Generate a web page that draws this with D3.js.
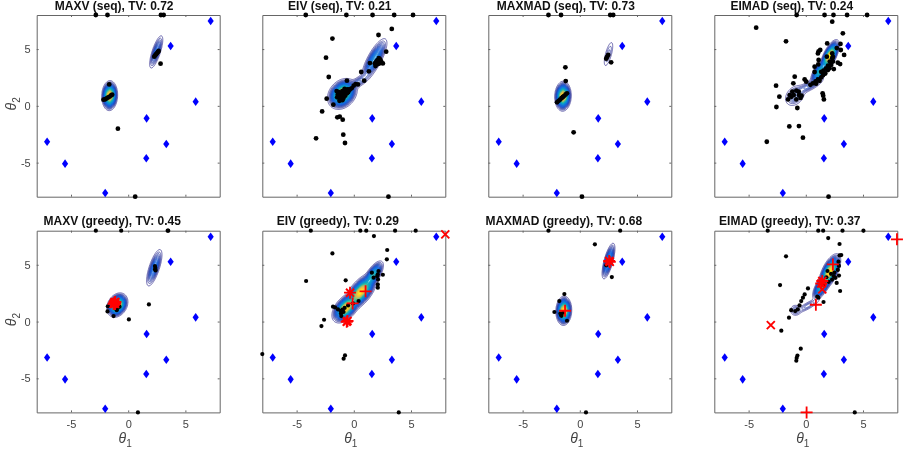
<!DOCTYPE html>
<html><head><meta charset="utf-8">
<script src="https://cdnjs.cloudflare.com/ajax/libs/d3/7.8.5/d3.min.js"></script>
<style>html,body{margin:0;padding:0;background:#fff}svg{display:block;filter:blur(.3px)}text{font-family:"Liberation Sans",Arial,sans-serif}</style>
</head><body><svg id="c" width="906" height="452"></svg>
<script>
const titles=["MAXV (seq), TV: 0.72","EIV (seq), TV: 0.21","MAXMAD (seq), TV: 0.73","EIMAD (seq), TV: 0.24","MAXV (greedy), TV: 0.45","EIV (greedy), TV: 0.29","MAXMAD (greedy), TV: 0.68","EIMAD (greedy), TV: 0.37"];
const tickValues=[-5,0,5];
const designs=[[-7.09,-3.16],[-5.52,-5.09],[-2.01,-7.68],[1.58,-4.62],[1.61,-1.1],[3.33,-3.36],[3.71,5.27],[5.9,0.37],[7.21,7.47]];

const pointsMaxvSeq=[[-2.83,8],[-1.81,8],[2.86,8],[3.1,8],[0.61,-8],[-0.9,-2.01],[2.83,3.71],[-1.66,1.89],[-2.16,0.54],[-2.0,0.58],[-1.88,0.66],[-1.75,0.74],[-1.62,0.82],[-1.5,0.92],[-1.4,0.98],[2.28,4.33],[2.36,4.45],[2.44,4.55],[2.52,4.65],[2.6,4.75],[2.66,4.83]];
const pointsEivSeq=[[-4.2,8],[-0.65,8],[1.64,8],[3.53,8],[5.18,8],[3.03,-8],[3.32,6.77],[2.16,6.24],[-1.87,5.92],[2.83,4.77],[-2.43,4.24],[-2.19,2.54],[-0.6,2.22],[0.65,2.98],[1.32,3.04],[1.41,3.77],[0.91,2.22],[-2.37,0.63],[-1.79,0.1],[-2.77,-0.49],[-1.44,-1.01],[-1.23,-0.95],[-0.97,-1.22],[-0.92,-2.54],[-0.77,-3.27],[-3.3,-2.86],
[-1.5,1.3],[-1.4,1.0],[-1.35,0.8],[-1.3,1.2],[-1.2,0.9],[-1.15,0.6],[-1.1,1.1],[-1.05,0.8],[-1.0,1.3],[-1.0,0.5],[-0.95,1.0],[-0.9,0.7],[-0.85,1.2],[-0.8,1.5],[-0.75,0.9],[-0.7,1.3],[-0.6,1.1],[-0.55,1.45],[-0.5,1.2],[-0.4,1.4],[-1.45,0.75],[-1.25,0.45],[0.16,1.92],[-0.01,1.78],[0.36,1.89],[-0.19,1.54],[-0.35,1.45],
[2.19,4.1],[1.96,3.89],[2.4,3.89],[2.1,3.68],[1.84,3.74],[2.25,3.74],[2.54,3.74],[2.19,4.2],[2.05,4.0],[2.3,4.1],[1.9,3.5]];
const pointsMaxmadSeq=[[-2.74,8],[-1.64,8],[2.66,8],[2.92,8],[0.19,-8],[2.74,3.83],[-1.26,3.39],[-1.23,2.18],[-0.54,-2.33],[-1.99,0.31],[-1.85,0.44],[-1.72,0.55],[-1.6,0.68],[-1.48,0.78],[-1.36,0.88],[-1.24,1.0],[-1.12,1.1],[2.31,4.15],[2.38,4.3],[2.48,4.48]];
const pointsEimadSeq=[[-0.8,8],[1.64,8],[2.42,8],[3.61,8],[5.36,8],[1.99,-8],[-4.34,6.88],[2.31,7.41],[-1.73,5.68],[3.24,6.39],[1.87,5.5],[3.03,5.45],[2.71,5.09],[3.06,4.92],[3.35,4.48],[1.26,4.92],[1.12,4.8],[1.06,4.62],[1.84,4.33],[2.31,4.62],[2.37,4.33],[1.12,4.04],[1.09,3.65],[0.77,3.45],[2.8,3.8],[3.0,3.68],[2.45,3.24],[0.77,2.98],[-0.97,2.57],[-1.09,1.98],[-0.1,2.33],[0.04,2.13],[-2.6,1.78],[-2.31,0.81],[-2.57,-0.1],[-0.74,-0.19],[1.47,1.1],[1.52,0.9],[1.58,0.57],[-1.44,-1.81],[-0.6,-1.78],[-0.25,-2.8],[-3.41,-3.16],
[-1.55,0.57],[-1.41,0.95],[-1.18,1.25],[-0.83,1.34],[-0.62,1.25],[-1.05,0.95],[-0.6,0.95],[-0.37,0.9],[-0.83,0.57],[-1.26,0.8],[-0.46,0.7],
[0.62,1.98],[0.85,2.15],[1.06,2.33],[1.35,2.5],[1.5,2.7],[1.7,2.85],[1.93,3.15],[2.08,3.3],[2.22,3.6],[2.37,3.9],[1.78,3.3],[1.55,3.1],[1.35,3.0],[2.31,4.2],[2.1,3.9],[1.95,3.55],[0.4,1.85],[0.9,1.95],[1.2,2.2]];
const pointsMaxvGreedy=[[-2.83,8],[-0.61,8],[3.45,8],[3.5,8],[0.85,-8],[0.06,0.19],[1.81,1.51],[-1.78,1.34],[-1.81,0.89],[-1.28,0.48],[-1.0,1.0],[-0.93,1.19],[-0.76,1.31],[2.34,4.89],[2.37,4.72],[2.39,4.5],[2.35,4.6]];
const pointsEivGreedy=[[-3.76,8],[0.57,8],[1.09,8],[3.61,8],[5.41,8],[1.76,7.53],[2.92,6.3],[2.89,5.48],[-1.87,6.0],[-4.17,3.57],[-0.71,3.63],[-8,-2.86],[-0.77,-2.98],[-0.89,-3.27],[-2.6,0.16],[-2.83,-0.4],[3.93,-8],[-1.82,1.31],[-1.64,1.25],[-1.38,1.07],[-1.15,0.92],[-1.12,0.7],[-1.09,0.48],[-0.8,1.2],[-0.5,1.42],[-0.07,1.6],[0.42,1.8],[1.58,4.3],[2.16,4.45],[2.1,4.15],[2.12,3.7],[2.1,3.27],[2.1,2.98],[2.54,4.12],[1.73,3.86],[2.05,4.0],[-1.0,1.05],[-0.9,0.85]];
const pointsMaxmadGreedy=[[-2.74,8],[3.53,8],[0.54,-8],[1.32,6.8],[2.8,3.92],[-1.35,2.42],[-1.79,1.8],[-2.22,0.84],[-1.12,0.07],[-1.7,0.7],[-1.6,0.5],[-1.65,0.58],[-1.45,0.78],[2.31,4.95]];
const pointsEimadGreedy=[[-3.33,8],[1.09,8],[1.52,8],[3.21,8],[5.04,8],[4.28,-8],[1.96,7.35],[2.95,6.83],[-1.73,5.74],[-2.25,3.21],[0.19,2.92],[3.1,5.85],[2.95,5.82],[2.86,5.27],[3.0,2.69],[1.55,1.72],[1.0,2.19],[1.1,2.1],[-1.47,0.34],[-2.14,-0.8],[-0.44,-2.39],[-0.73,-3.0],[-0.8,-3.2],[-0.83,-3.45],
[-0.1,2.39],[-0.25,2.1],[-0.4,1.8],[-0.55,1.42],[-0.7,1.07],[-0.93,0.92],[-1.28,1.0],
[1.9,4.45],[2.2,4.2],[2.5,4.3],[2.8,4.55],[2.9,4.05],[2.6,3.85],[2.3,3.7],[2.0,3.5],[1.8,3.9],[2.7,3.4],[2.45,4.0],[2.9,4.9],[1.6,3.3]];

const redPlusMaxvGreedy=[[-1.2,1.63],[-1.12,1.72],[-1.28,1.55],[-1.2,1.7],[-1.15,1.55]];
const redCrossMaxvGreedy=[[-1.2,1.63],[-1.12,1.72],[-1.28,1.55],[-1.2,1.7],[-1.15,1.55]];
const redPlusEivGreedy=[[-0.62,-0.02],[-0.33,2.54],[-0.1,1.6],[1.03,2.66],[-0.55,0.05]];
const redCrossEivGreedy=[[-0.62,-0.02],[-0.33,2.54],[8,7.68],[-0.55,0.05]];
const redPlusMaxmadGreedy=[[-1.29,0.95],[2.57,5.33],[2.62,5.25]];
const redCrossMaxmadGreedy=[[2.57,5.33],[2.62,5.25]];
const redPlusEimadGreedy=[[0.88,1.48],[7.97,7.24],[0.07,-8],[2.37,5.03],[1.44,3.57],[1.35,3.35]];
const redCrossEimadGreedy=[[-3.06,-0.31],[1.44,2.83],[1.44,3.57],[1.35,3.35]];

/* density lobes: centre x, centre y, sigma along, sigma across, axis angle, peak */
const lobesMaxvSeq=[[-1.62,0.9,.44,.23,88,1],[2.45,4.75,.66,.16,72,.14]];
const lobesEivSeq=[[-1.0,1.05,.5,.38,50,1],[0.4,2.1,.57,.19,35,.08],[1.8,4.1,.8,.24,62,.28]];
const lobesMaxmadSeq=[[-1.47,0.85,.44,.24,88,1],[2.51,4.56,.65,.16,75,.04]];
const lobesEimadSeq=[[2.1,4.4,.52,.19,65,1],[1.2,3.0,.47,.19,60,.45],[-0.95,0.9,.47,.34,50,.09],[0.3,1.75,.66,.19,28,.08]];
const lobesMaxvGreedy=[[-0.95,1.45,.38,.28,60,1],[2.28,4.74,.71,.19,72,.18]];
const lobesEivGreedy=[[-0.7,1.2,.52,.3,50,1],[0.6,2.6,.66,.31,52,1],[1.7,4.1,.52,.21,58,.45]];
const lobesMaxmadGreedy=[[-1.4,0.95,.43,.23,88,1],[2.51,5.33,.63,.15,75,.3]];
const lobesEimadGreedy=[[2.1,4.4,.57,.23,65,1],[1.4,3.1,.47,.19,60,.55],[0.2,1.4,.57,.15,30,.055],[-0.9,1,.24,.24,0,.055]];

const parula=["#352a87","#0f5cdd","#1481d6","#06a4ca","#2eb7a4","#87bf77","#d1bb59","#fec832","#f9fb0e"];

const panels=[
 {t:0,pts:pointsMaxvSeq,lobes:lobesMaxvSeq},
 {t:1,pts:pointsEivSeq,lobes:lobesEivSeq},
 {t:2,pts:pointsMaxmadSeq,lobes:lobesMaxmadSeq},
 {t:3,pts:pointsEimadSeq,lobes:lobesEimadSeq},
 {t:4,pts:pointsMaxvGreedy,lobes:lobesMaxvGreedy,plus:redPlusMaxvGreedy,cross:redCrossMaxvGreedy},
 {t:5,pts:pointsEivGreedy,lobes:lobesEivGreedy,plus:redPlusEivGreedy,cross:redCrossEivGreedy},
 {t:6,pts:pointsMaxmadGreedy,lobes:lobesMaxmadGreedy,plus:redPlusMaxmadGreedy,cross:redCrossMaxmadGreedy},
 {t:7,pts:pointsEimadGreedy,lobes:lobesEimadGreedy,plus:redPlusEimadGreedy,cross:redCrossEimadGreedy}
];

const lefts=[36.7,262.3,488.3,714.3], tops=[15,230.7], W=183, H=181.7, N=240, LEVELS=90;
const svg=d3.select("#c");
const colour=d3.scaleLinear().domain(parula.map((_,i)=>i/(parula.length-1))).range(parula);
const gridScale=d3.scaleLinear().domain([0,N]).range([-8,8]);
const diamondShape={draw(ctx){ctx.moveTo(0,-4.3);ctx.lineTo(3.1,0);ctx.lineTo(0,4.3);ctx.lineTo(-3.1,0);ctx.closePath();}};

function field(lobes){
  const v=new Float64Array(N*N);
  for(let j=0;j<N;j++)for(let i=0;i<N;i++){
    const x=gridScale(i+.5),y=gridScale(j+.5);let s=0;
    for(const [cx,cy,a,b,ang,p] of lobes){
      const r=ang*Math.PI/180,dx=x-cx,dy=y-cy;
      const u=dx*Math.cos(r)+dy*Math.sin(r),w=-dx*Math.sin(r)+dy*Math.cos(r);
      s+=p*Math.exp(-.5*(u*u/(a*a)+w*w/(b*b)));
    }
    v[j*N+i]=s;
  }
  return v;
}
const marker={
 plus:r=>`M${-r},0H${r}M0,${-r}V${r}`,
 cross:r=>`M${-r},${-r}L${r},${r}M${-r},${r}L${r},${-r}`
};

panels.forEach((p,idx)=>{
  const col=idx%4,row=idx>3?1:0,x0=lefts[col],y0=tops[row];
  const x=d3.scaleLinear().domain([-8,8]).range([x0,x0+W]);
  const y=d3.scaleLinear().domain([-8,8]).range([y0+H,y0]);
  const g=svg.append("g");

  const vals=field(p.lobes),mx=d3.max(vals);
  const th=d3.range(1,LEVELS).map(i=>i/LEVELS*mx);
  const path=d3.geoPath(d3.geoTransform({point(a,b){this.stream.point(x(gridScale(a)),y(gridScale(b)));}}));
  g.append("g").selectAll("path").data(d3.contours().size([N,N]).thresholds(th)(Array.from(vals)))
    .join("path").attr("d",path).attr("fill","none")
    .attr("stroke",d=>colour(d.value/mx)).attr("stroke-width",.7);

  const frame=g.append("g").attr("class","axes");
  const style=s=>{s.selectAll("path,line").attr("stroke","#666").attr("stroke-width",1);s.selectAll("text").attr("fill","#444").attr("font-size",11).attr("font-family",'"Liberation Sans"');};
  const bottom=d3.axisBottom(x).tickValues(tickValues).tickSizeInner(-2).tickSizeOuter(0).tickPadding(8).tickFormat(d=>row?String(d):"");
  const top=d3.axisTop(x).tickValues(tickValues).tickSizeInner(-2).tickSizeOuter(0).tickFormat("");
  const left=d3.axisLeft(y).tickValues(tickValues).tickSizeInner(-2).tickSizeOuter(0).tickPadding(6).tickFormat(d=>col===0?String(d):"");
  const right=d3.axisRight(y).tickValues(tickValues).tickSizeInner(-2).tickSizeOuter(0).tickFormat("");
  frame.append("g").attr("transform",`translate(0,${y0+H})`).call(bottom).call(style);
  frame.append("g").attr("transform",`translate(0,${y0})`).call(top).call(style);
  frame.append("g").attr("transform",`translate(${x0},0)`).call(left).call(style);
  frame.append("g").attr("transform",`translate(${x0+W},0)`).call(right).call(style);

  g.append("g").selectAll("path").data(designs).join("path")
    .attr("d",d3.symbol(diamondShape)).attr("fill","#0000ff")
    .attr("transform",d=>`translate(${x(d[0])},${y(d[1])})`);

  g.append("g").selectAll("circle").data(p.pts).join("circle")
    .attr("cx",d=>x(d[0])).attr("cy",d=>y(d[1])).attr("r",row?2.1:2.4).attr("fill","#000");

  if(p.plus) g.append("g").selectAll("path").data(p.plus).join("path")
    .attr("d",marker.plus(6)).attr("fill","none").attr("stroke","#ff0000").attr("stroke-width",1.8)
    .attr("transform",d=>`translate(${x(d[0])},${y(d[1])})`);
  if(p.cross) g.append("g").selectAll("path.c").data(p.cross).join("path").attr("class","c")
    .attr("d",marker.cross(4)).attr("fill","none").attr("stroke","#ff0000").attr("stroke-width",1.9)
    .attr("transform",d=>`translate(${x(d[0])},${y(d[1])})`);

  g.append("text").attr("x",x0+W/2-(row?16:14)).attr("y",y0-5.5).attr("text-anchor","middle")
    .attr("font-size",12).attr("font-weight","bold").attr("fill","#111").text(titles[p.t]);

  if(row){
    const t=g.append("text").attr("x",x(0)-3).attr("y",y0+H+31).attr("text-anchor","middle").attr("fill","#444").attr("font-size",14);
    t.append("tspan").attr("font-style","italic").text("θ");
    t.append("tspan").attr("font-size",10).attr("dy",4).text("1");
  }
  if(col===0){
    const t=g.append("text").attr("transform",`translate(16,${y(0)-2}) rotate(-90)`).attr("text-anchor","middle").attr("fill","#444").attr("font-size",14);
    t.append("tspan").attr("font-style","italic").text("θ");
    t.append("tspan").attr("font-size",10).attr("dy",4).text("2");
  }
});
</script></body></html>
